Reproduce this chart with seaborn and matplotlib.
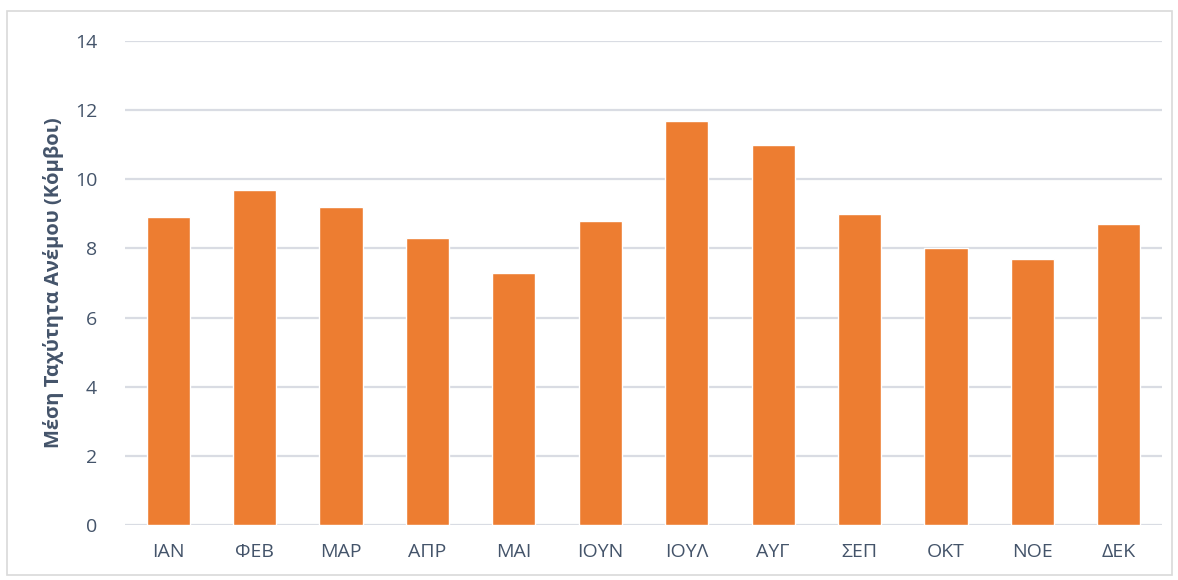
import pandas as pd
import seaborn as sns
import matplotlib.pyplot as plt
from matplotlib.patches import Rectangle

months = ["ΙΑΝ", "ΦΕΒ", "ΜΑΡ", "ΑΠΡ", "ΜΑΙ", "ΙΟΥΝ", "ΙΟΥΛ", "ΑΥΓ", "ΣΕΠ", "ΟΚΤ", "ΝΟΕ", "ΔΕΚ"]
wind_speed = [8.9, 9.7, 9.2, 8.3, 7.3, 8.8, 11.7, 11.0, 9.0, 8.0, 7.7, 8.7]
y_ticks = [0, 2, 4, 6, 8, 10, 12, 14]

TEXT = "#44546A"
GRID = "#D9DCE3"
BAR = "#ED7D31"

sns.set_theme(style="white")
plt.rcParams["font.family"] = ["Open Sans", "DejaVu Sans"]

df = pd.DataFrame({"month": months, "speed": wind_speed})

fig = plt.figure(figsize=(11.78, 5.8), dpi=100)
ax = fig.add_axes([125 / 1178, 55 / 580, 1037 / 1178, 484 / 580])

sns.barplot(data=df, x="month", y="speed", color=BAR, width=0.5, saturation=1,
            errorbar=None, ax=ax, zorder=3)

ax.set_ylim(0, 14)
ax.set_yticks(y_ticks)
ax.set_xlim(-0.5, len(months) - 0.5)
ax.yaxis.grid(True, color=GRID, linewidth=1.6, zorder=0)
ax.set_axisbelow(True)
for s in ax.spines.values():
    s.set_visible(False)

ax.tick_params(axis="both", length=0, labelsize=14, labelcolor=TEXT)
ax.tick_params(axis="y", pad=20)
ax.tick_params(axis="x", pad=13)
ax.set_xlabel("")
ax.set_ylabel("Μέση Ταχύτητα Ανέμου (Κόμβοι)", fontsize=14.5, fontweight="bold",
              color=TEXT, labelpad=8)

fig.patches.append(Rectangle((7 / 1178, 5 / 580), 1165 / 1178, 564 / 580,
                             transform=fig.transFigure, fill=False,
                             edgecolor="#D9D9D9", linewidth=1.2))

fig.savefig("out.png", dpi=100)
